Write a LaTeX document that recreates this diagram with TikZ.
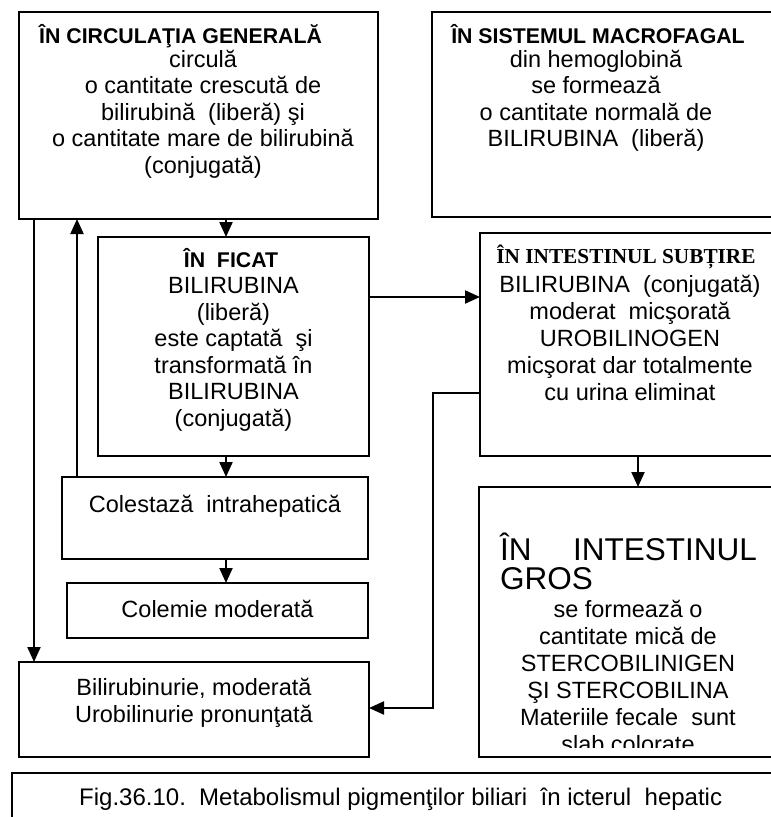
\documentclass[tikz,border=0pt]{standalone}
\usepackage{fontspec}
\setmainfont{Liberation Sans}
\newfontfamily\timesfam{Liberation Serif}
\usetikzlibrary{arrows.meta}
\tikzset{
  box/.style={draw, line width=2.6pt, inner sep=0pt, outer sep=0pt, anchor=north west},
  txt/.style={inner sep=0pt, anchor=base, font=\fontsize{23.5}{27}\selectfont},
  hd/.style={inner sep=0pt, anchor=base, font=\fontsize{21.3}{25}\selectfont\bfseries},
  big/.style={inner sep=0pt, font=\fontsize{31.5}{36}\selectfont},
  arr/.style={line width=2.1pt, -{Triangle[length=15pt,width=13pt]}},
}
\begin{document}
\begin{tikzpicture}[x=1pt,y=-1pt]
\useasboundingbox (0,0) rectangle (771,817);
\clip (0,0) rectangle (771,817);

% boxes
\node[box, minimum width=359pt, minimum height=207pt] (circ) at (19,12) {};
\node[box, minimum width=360pt, minimum height=205pt] (macro) at (432,12) {};
\node[box, minimum width=271pt, minimum height=219pt] (ficat) at (98,237) {};
\node[box, minimum width=300pt, minimum height=223pt] (subt) at (480,233) {};
\node[box, minimum width=306pt, minimum height=82pt] (coles) at (62,477) {};
\node[box, minimum width=301pt, minimum height=55pt] (colem) at (67,583) {};
\node[box, minimum width=350pt, minimum height=95pt] (bili) at (19,662) {};
\node[box, minimum width=300pt, minimum height=270pt] (gros) at (479,487) {};
\node[box, line width=1.8pt, minimum width=780pt, minimum height=80pt] (capbox) at (12,773) {};

% texts: circulatia generala
\node[hd, anchor=base west] (circ-h) at (39,43) {ÎN CIRCULAŢIA GENERALĂ};
\foreach \s [count=\i] in {circulă, o cantitate crescută de, {bilirubină\ \ (liberă) şi}, o cantitate mare de bilirubină, (conjugată)}
  \node[txt] (circ-\i) at (203,{40.5+26.5*\i}) {\s};

% sistemul macrofagal
\node[hd] (macro-h) at (598,43) {ÎN SISTEMUL MACROFAGAL};
\foreach \s [count=\i] in {din hemoglobină, se formează, o cantitate normală de, {BILIRUBINA\ \ (liberă)}}
  \node[txt] (macro-\i) at (596,{40.5+26.5*\i}) {\s};

% ficat
\node[hd] (ficat-h) at (231,267) {ÎN\ \ FICAT};
\foreach \s [count=\i] in {BILIRUBINA, (liberă), {este captată\ \ şi}, transformată în, BILIRUBINA, (conjugată)}
  \node[txt] (ficat-\i) at (233.5,{267+26.5*\i}) {\s};

% intestinul subtire
\node[hd, font=\fontsize{21.3}{25}\selectfont\timesfam\bfseries] (subt-h) at (626,263) {ÎN INTESTINUL SUBȚIRE};
\foreach \s [count=\i] in {{BILIRUBINA\ \ (conjugată)}, {moderat\ \ micşorată}, UROBILINOGEN, micşorat dar totalmente, cu urina eliminat}
  \node[txt] (subt-\i) at (630,{265+27*\i}) {\s};

% intestinul gros
\node[big, anchor=base west] (gros-h1) at (500,560) {ÎN};
\node[big, anchor=base east] (gros-h2) at (757,560) {INTESTINUL};
\node[big, anchor=base west] (gros-h3) at (500,589) {GROS};
\begin{scope}
\clip (470,480) rectangle (800,747);
\foreach \s [count=\i] in {se formează o, cantitate mică de, STERCOBILINIGEN, ŞI STERCOBILINA, {Materiile fecale\ \ sunt}, slab colorate}
  \node[txt] (gros-\i) at (628,{590+27*\i}) {\s};
\end{scope}

% small boxes
\node[txt] (coles-t) at (215,512) {Colestază\ \ intrahepatică};
\node[txt] (colem-t) at (217.5,617) {Colemie moderată};
\node[txt] (bili-1) at (194,695) {Bilirubinurie, moderată};
\node[txt] (bili-2) at (194,722) {Urobilinurie pronunţată};

% caption
\node[txt, anchor=base west, font=\fontsize{24}{27}\selectfont] (cap) at (79,805) {Fig.36.10.\ \ Metabolismul pigmenţilor biliari\ \ în icterul\ \ hepatic};

% connector guides
\coordinate (c226) at (226,0);
\coordinate (c34) at (34,0);
\coordinate (c77) at (77,0);
\coordinate (c638) at (638,0);
\coordinate (c433) at (433,0);
\coordinate (r297) at (0,297);
\coordinate (r393) at (0,393);
\coordinate (r708) at (0,708);

% connectors
\draw[arr] (circ.south -| c226) -- (ficat.north -| c226);
\draw[arr] (ficat.south -| c226) -- (coles.north -| c226);
\draw[arr] (coles.south -| c226) -- (colem.north -| c226);
\draw[arr] (circ.south -| c34) -- (bili.north -| c34);
\draw[arr] (coles.north -| c77) -- (circ.south -| c77);
\draw[arr] (ficat.east |- r297) -- (subt.west |- r297);
\draw[arr] (subt.west |- r393) -| (c433 |- r708) -- (bili.east |- r708);
\draw[arr] (subt.south -| c638) -- (gros.north -| c638);
\end{tikzpicture}
\end{document}
